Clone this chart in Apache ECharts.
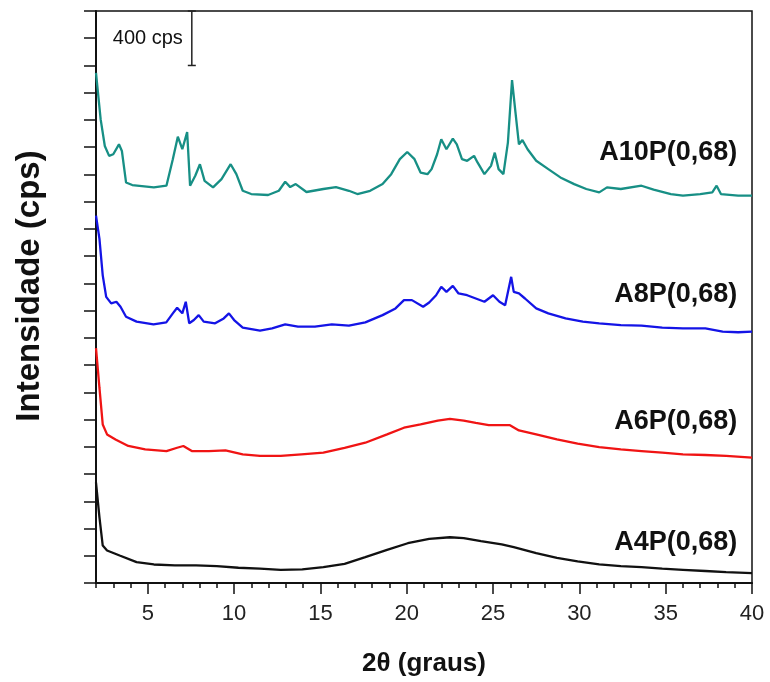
<!DOCTYPE html>
<html>
<head>
<meta charset="utf-8">
<script src="https://cdn.jsdelivr.net/npm/echarts@6/dist/echarts.min.js"></script>
<style>
  html, body { margin: 0; padding: 0; background: #fff; }
  #chart { width: 770px; height: 682px; }
</style>
</head>
<body>
<div id="chart"></div>
<script>
// 2theta (graus) / intensidade (cps), stacked diffractograms
const a10pData = [
  [2.0, 3745], [2.27, 3404], [2.51, 3209], [2.76, 3136], [3.0, 3148], [3.33, 3221], [3.5, 3172],
  [3.74, 2941], [4.1, 2922], [5.35, 2905], [6.08, 2917], [6.45, 3112], [6.74, 3277], [7.0, 3185],
  [7.28, 3311], [7.45, 2917], [7.75, 2990], [8.02, 3075], [8.29, 2953], [8.78, 2905], [9.27, 2966],
  [9.8, 3075], [10.13, 3002], [10.5, 2880], [10.99, 2856], [11.97, 2849], [12.59, 2880], [12.96, 2946],
  [13.25, 2907], [13.57, 2929], [14.19, 2871], [15.17, 2893], [15.9, 2907], [16.65, 2880], [17.14, 2856],
  [17.88, 2880], [18.6, 2929], [19.1, 3002], [19.6, 3112], [20.03, 3165], [20.45, 3112], [20.8, 3014],
  [21.2, 3002], [21.44, 3039], [21.76, 3148], [22.0, 3258], [22.3, 3185], [22.67, 3263], [22.9, 3221],
  [23.2, 3112], [23.5, 3100], [23.9, 3136], [24.1, 3088], [24.5, 3002], [24.88, 3063], [25.1, 3160],
  [25.32, 3039], [25.6, 3002], [25.86, 3234], [26.1, 3692], [26.3, 3453], [26.5, 3221], [26.7, 3253],
  [27.0, 3185], [27.5, 3100], [28.2, 3039], [28.9, 2978], [29.7, 2929], [30.4, 2893], [31.15, 2868],
  [31.6, 2905], [32.4, 2893], [33.6, 2917], [34.3, 2888], [35.3, 2856], [36.0, 2844], [37.0, 2856],
  [37.7, 2868], [37.95, 2917], [38.2, 2856], [39.2, 2844], [40.0, 2844]
]
const a8pData = [
  [2.0, 2698], [2.2, 2527], [2.39, 2259], [2.59, 2101], [2.88, 2053], [3.18, 2065], [3.42, 2028],
  [3.74, 1955], [4.35, 1919], [5.33, 1899], [6.07, 1914], [6.45, 1980], [6.7, 2021], [7.0, 1980],
  [7.2, 2065], [7.4, 1907], [7.67, 1931], [7.95, 1967], [8.24, 1919], [8.9, 1907], [9.4, 1943],
  [9.7, 1980], [10.0, 1931], [10.5, 1875], [11.5, 1853], [12.2, 1870], [12.96, 1899], [13.7, 1882],
  [14.68, 1882], [15.66, 1899], [16.65, 1890], [17.6, 1914], [18.6, 1967], [19.35, 2016], [19.84, 2077],
  [20.3, 2077], [20.95, 2028], [21.3, 2060], [21.7, 2113], [22.0, 2175], [22.3, 2138], [22.67, 2182],
  [23.0, 2126], [23.5, 2113], [24.0, 2089], [24.5, 2065], [25.0, 2113], [25.37, 2065], [25.7, 2040],
  [26.05, 2248], [26.2, 2138], [26.5, 2126], [26.85, 2089], [27.5, 2016], [28.2, 1980], [29.2, 1943],
  [30.2, 1919], [31.15, 1907], [32.4, 1894], [33.6, 1890], [34.8, 1875], [36.0, 1870], [37.3, 1870],
  [38.3, 1846], [39.2, 1841], [40.0, 1846]
]
const a6pData = [
  [2.0, 1724], [2.2, 1432], [2.39, 1164], [2.64, 1091], [3.13, 1054], [3.87, 1006], [4.85, 981],
  [6.08, 969], [6.7, 993], [7.06, 1006], [7.55, 969], [8.54, 969], [9.5, 974], [10.5, 945], [11.5, 933],
  [12.7, 933], [13.9, 945], [15.17, 957], [16.4, 993], [17.6, 1030], [18.86, 1091], [19.84, 1140],
  [20.8, 1164], [21.8, 1193], [22.5, 1205], [23.3, 1193], [24.0, 1176], [24.75, 1159], [25.98, 1159],
  [26.5, 1120], [27.5, 1091], [28.7, 1054], [29.9, 1023], [31.15, 998], [32.4, 981], [33.6, 969],
  [34.8, 957], [36.0, 945], [37.3, 940], [38.5, 933], [40.0, 920]
]
const a4pData = [
  [2.0, 738], [2.2, 482], [2.39, 275], [2.64, 239], [3.37, 202], [4.35, 153], [5.35, 136], [6.57, 129],
  [7.8, 129], [9.0, 124], [10.25, 112], [11.5, 105], [12.7, 97], [13.95, 100], [15.17, 117], [16.4, 141],
  [17.6, 190], [18.86, 243], [20.06, 292], [21.3, 324], [22.5, 336], [23.3, 329], [24.3, 307], [25.5, 283],
  [26.2, 263], [27.5, 219], [28.7, 185], [29.9, 158], [31.15, 136], [32.4, 124], [33.6, 117], [34.8, 105],
  [36.0, 97], [37.3, 88], [38.5, 80], [40.0, 73]
]

const sampleNames = ['A10P(0,68)', 'A8P(0,68)', 'A6P(0,68)', 'A4P(0,68)']
const sampleColors = ['#178f85', '#1414e6', '#f01414', '#111111']
// where each sample name sits: [2theta of right edge, cps of middle]
const labelPos = [[39.15, 3163], [39.15, 2118], [39.15, 1183], [39.15, 299]]

const xMajorTicks = [5, 10, 15, 20, 25, 30, 35, 40]
const xMinorTicks = [2, 3, 4, 6, 7, 8, 9, 11, 12, 13, 14, 16, 17, 18, 19, 21, 22, 23, 24, 26, 27, 28, 29, 31, 32, 33, 34, 36, 37, 38, 39]

// scale bar: [2theta, top cps, bottom cps]
const scaleBar = [[7.55, 4200, 3800]]
const scaleText = '400 cps'

const FONT = "'Liberation Sans', Arial, sans-serif"
const chart = echarts.init(document.getElementById('chart'))

const curves = [a10pData, a8pData, a6pData, a4pData].map((d, i) => ({
  name: sampleNames[i],
  type: 'line',
  data: d,
  symbol: 'none',
  smooth: false,
  lineStyle: { color: sampleColors[i], width: 2.3 },
  markPoint: {
    symbol: 'circle',
    symbolSize: 0,
    data: [{
      coord: labelPos[i],
      label: {
        show: true,
        formatter: sampleNames[i],
        position: 'inside',
        align: 'right',
        verticalAlign: 'middle',
        color: '#111',
        fontFamily: FONT,
        fontWeight: 'bold',
        fontSize: 27
      }
    }]
  },
  z: 3
}))

chart.setOption({
  animation: false,
  grid: {
    left: 96,
    right: 18,
    top: 11,
    bottom: 96,
    show: true,
    borderColor: '#111',
    borderWidth: 1.5
  },
  xAxis: [{
    type: 'value',
    min: 2,
    max: 40,
    name: '2θ (graus)',
    nameLocation: 'middle',
    nameGap: 68,
    nameTextStyle: { fontFamily: FONT, fontWeight: 'bold', fontSize: 26, color: '#111' },
    axisLine: { lineStyle: { color: '#111', width: 2 } },
    axisTick: { customValues: xMajorTicks, length: 11, lineStyle: { color: '#111', width: 1.5 } },
    axisLabel: { customValues: xMajorTicks, margin: 20, fontFamily: FONT, fontSize: 22, color: '#222' },
    splitLine: { show: false }
  }, {
    type: 'value',
    min: 2,
    max: 40,
    position: 'bottom',
    axisLine: { show: false },
    axisTick: { customValues: xMinorTicks, length: 5, lineStyle: { color: '#111', width: 1.5 } },
    axisLabel: { show: false },
    splitLine: { show: false }
  }],
  yAxis: {
    type: 'value',
    min: 0,
    max: 4200,
    interval: 200,
    name: 'Intensidade (cps)',
    nameLocation: 'middle',
    nameGap: 50,
    nameRotate: 90,
    nameTextStyle: { fontFamily: FONT, fontWeight: 'bold', fontSize: 33, color: '#111', padding: [0, 0, 0, 22] },
    axisLine: { show: true, lineStyle: { color: '#111', width: 2 } },
    axisTick: { show: true, length: 12, lineStyle: { color: '#111', width: 1.5 } },
    axisLabel: { show: false },
    splitLine: { show: false }
  },
  series: [
    ...curves,
    {
      type: 'custom',
      data: scaleBar,
      renderItem(params, api) {
        const top = api.coord([api.value(0), api.value(1)])
        const bot = api.coord([api.value(0), api.value(2)])
        const style = { stroke: '#222', lineWidth: 1.5 }
        return {
          type: 'group',
          children: [
            { type: 'line', shape: { x1: top[0], y1: top[1], x2: bot[0], y2: bot[1] }, style },
            { type: 'line', shape: { x1: top[0] - 4, y1: top[1], x2: top[0] + 4, y2: top[1] }, style },
            { type: 'line', shape: { x1: bot[0] - 4, y1: bot[1], x2: bot[0] + 4, y2: bot[1] }, style },
            {
              type: 'text',
              x: top[0] - 9,
              y: (top[1] + bot[1]) / 2,
              style: {
                text: scaleText,
                align: 'right',
                verticalAlign: 'middle',
                fill: '#111',
                font: '20px ' + FONT
              }
            }
          ]
        }
      },
      z: 4
    }
  ]
})
</script>
</body>
</html>
